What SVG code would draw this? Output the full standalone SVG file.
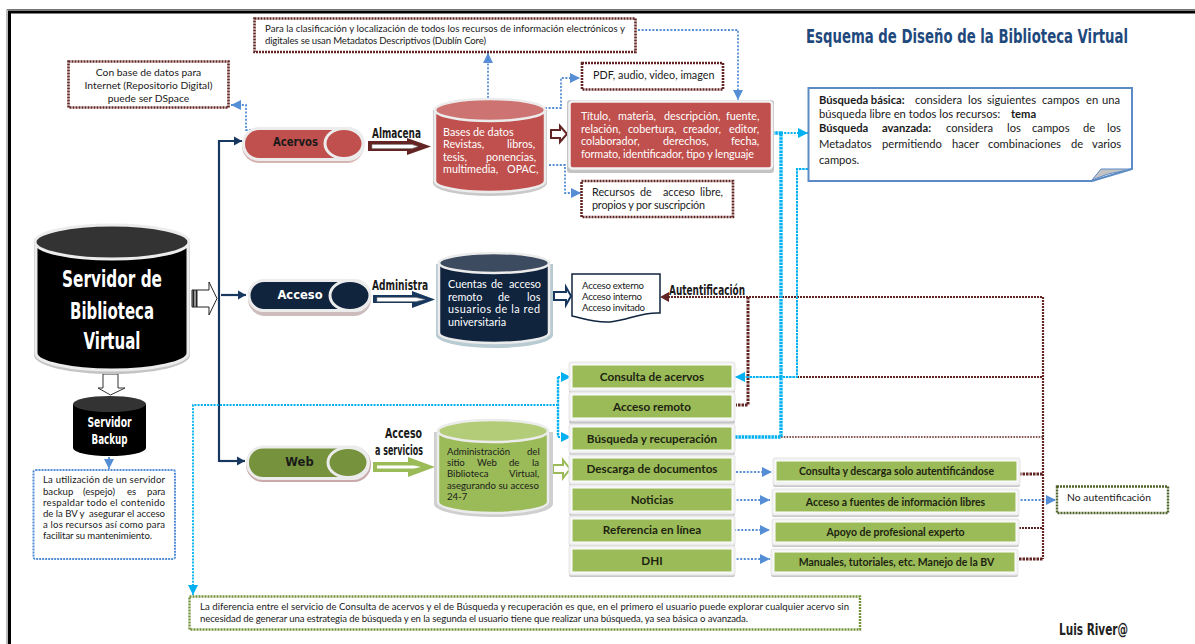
<svg xmlns="http://www.w3.org/2000/svg" width="1195" height="644" viewBox="0 0 1195 644">
<style>
text{font-family:Lato,"Open Sans","Liberation Sans",sans-serif;fill:#1a1a1a}
.t9{font-size:9.6px}.t10{font-size:10.3px}.t11{font-size:10.8px}.t12{font-size:11.2px}
.w{fill:#fff}.c{text-anchor:middle}
.b{font-weight:700}
.cond{font-family:"Liberation Sans Narrow","DejaVu Sans Condensed","Liberation Sans",sans-serif;font-weight:700}
.btn{font-weight:700;font-size:11.7px;text-anchor:middle;fill:#1d2410}
.btn2{font-weight:700;font-size:10.5px;text-anchor:middle;fill:#1d2410}
.pill{font-family:"DejaVu Sans","Liberation Sans",sans-serif;font-weight:700;font-size:11.5px;text-anchor:middle}
.boxm{fill:#fff;stroke:#632523;stroke-width:2.6;stroke-dasharray:2 1}
.boxb{fill:#fff;stroke:#558ed5;stroke-width:2;stroke-dasharray:2 1}
.boxo{fill:#fff;stroke:#76923c;stroke-width:2.4;stroke-dasharray:2 1}
.boxd{fill:#fff;stroke:#4f6228;stroke-width:2.4;stroke-dasharray:2 1}
.lb{fill:none;stroke:#558ed5;stroke-width:1.8;stroke-dasharray:2 1.6}
.lc{fill:none;stroke:#00b0f0;stroke-width:1.8;stroke-dasharray:2 1.2}
.lct{fill:none;stroke:#00b0f0;stroke-width:3.4;stroke-dasharray:2.5 .8}
.lm{fill:none;stroke:#632523;stroke-width:2.2;stroke-dasharray:2 1}
.lmt{fill:none;stroke:#632523;stroke-width:3;stroke-dasharray:2.5 1}
.lmf{fill:none;stroke:#632523;stroke-width:1.3;stroke-dasharray:1.6 1.2}
.ln{fill:none;stroke:#17375e;stroke-width:2.2}
.shade{fill:#c6c6c6}.rim{fill:#f3f3f3;stroke:#e6e6e6}
.g{fill:#9bbb59;stroke:#fff;stroke-width:1}
</style>
<defs>
<marker id="ab" markerUnits="userSpaceOnUse" markerWidth="12" markerHeight="10" refX="10" refY="5" orient="auto"><path d="M0 0L10 5L0 10z" fill="#558ed5"/></marker>
<marker id="ac" markerUnits="userSpaceOnUse" markerWidth="12" markerHeight="10" refX="10" refY="5" orient="auto"><path d="M0 0L10 5L0 10z" fill="#00b0f0"/></marker>
<marker id="an" markerUnits="userSpaceOnUse" markerWidth="10" markerHeight="10" refX="8" refY="5" orient="auto"><path d="M0 0.5L8 5L0 9.5z" fill="#17375e"/></marker>
</defs>
<rect width="1195" height="644" fill="#fff"/>
<g id="frame">
<path d="M7 644V9.5H1195" fill="none" stroke="#777" stroke-width="1"/>
<path d="M9.5 644V12H1195" fill="none" stroke="#000" stroke-width="3"/>
</g>
<g id="title">
<text class="cond" transform="translate(806 43) scale(1 1.25)" font-size="16" style="fill:#1f497d" textLength="322" lengthAdjust="spacingAndGlyphs">Esquema de Diseño de la Biblioteca Virtual</text>
<text class="cond" x="1059" y="635" font-size="15" style="fill:#222" textLength="69" lengthAdjust="spacingAndGlyphs">Luis River@</text>
</g>
<g id="connectors">
<path class="ln" d="M219 462V141H242" marker-end="url(#an)"/>
<path class="ln" d="M221 295H246" marker-end="url(#an)"/>
<path class="ln" d="M219 461H245" marker-end="url(#an)"/>
<path class="lb" d="M262 130H246V105H231" marker-end="url(#ab)"/>
<path class="lb" d="M488 98V53" marker-end="url(#ab)"/>
<path class="lb" d="M638 30H738V100" marker-end="url(#ab)"/>
<path class="lb" d="M545 108H561V78H580" marker-end="url(#ab)"/>
<path class="lb" d="M549 165H565V193H581" marker-end="url(#ab)"/>
<path class="lb" d="M109 457V469" marker-end="url(#ab)"/>
<path class="lb" d="M736 472H772" marker-end="url(#ab)"/>
<path class="lb" d="M733 500H770" marker-end="url(#ab)"/>
<path class="lb" d="M734 530H770" marker-end="url(#ab)"/>
<path class="lb" d="M733 559H770" marker-end="url(#ab)"/>
<path class="lb" d="M1017 500H1056" marker-end="url(#ab)"/>
<path class="lm" d="M668 297H1043V559"/>
<path d="M660 297L669 292V302z" fill="#632523"/>
<path class="lmt" d="M748 297V405H736"/>
<path class="lm" d="M797 377H1043"/>
<path class="lmf" d="M781 437H1043"/>
<path class="lmt" d="M1019 474H1043"/>
<path class="lm" d="M1019 528H1043"/>
<path class="lmt" d="M1019 559H1043"/>
<path class="lct" d="M772 133H781V437H734"/>
<path class="lc" d="M781 133H808" marker-end="url(#ac)"/>
<path class="lct" style="stroke-width:2" d="M808 169H797V377H745"/>
<path class="lc" d="M745 377H735" marker-end="url(#ac)"/>
<path class="lc" d="M558 405H193V595" marker-end="url(#ac)"/>
<path class="lct" style="stroke-width:2.4" d="M558 377V437"/>
<path class="lc" d="M558 377H571" marker-end="url(#ac)"/>
<path class="lc" d="M558 437H571" marker-end="url(#ac)"/>
</g>
<g id="arrows">
<path d="M192 290H209V282L217 298.500L209 315V307H192z" fill="#fff" stroke="#222" stroke-width="1"/>
<path d="M193.500 290V307M196.500 290V307" stroke="#222" stroke-width="2" fill="none"/>
<path d="M103 374H118V388H125L110.500 395L98 388H103z" fill="#fff" stroke="#333" stroke-width="1"/>
<path d="M368 141H407V138L431 146.500L407 155V151H368z" fill="#632523"/>
<path d="M372 144.500H412L418 146.500L412 148.500H372z" fill="#fff" stroke="#8c8c8c" stroke-width=".6"/>
<path d="M373 295H412V291L435 299.500L412 308V303H373z" fill="#17375e"/>
<path d="M377 297.500H416L425 299.500L416 301.500H377z" fill="#fff" stroke="#8c8c8c" stroke-width=".6"/>
<path d="M373 462H408V457L435 467L408 477V472H373z" fill="#9bbb59"/>
<path d="M377 465.500H414L421 467L414 468.500H377z" fill="#fff"/>
<path d="M551 130H560V126L567 134L560 142V138H551z" fill="#fff" stroke="#632523" stroke-width="2"/>
<path d="M554 292H566V287L571 296L566 305V300H554z" fill="#fff" stroke="#17375e" stroke-width="2"/>
<path d="M553 465H563V460L570 469L563 478V473H553z" fill="#fff" stroke="#9bbb59" stroke-width="2"/>
</g>
<g id="servidor">
<path d="M34 242V355C34 366 70 374 112 374S190 366 190 355V242z" fill="#c4c4c4"/>
<path d="M36 240V353A76 17 0 0 0 188 353V240z" fill="#000" stroke="#ececec" stroke-width="3"/>
<ellipse cx="112" cy="242" rx="77" ry="17" fill="#333" stroke="#ececec" stroke-width="3"/>
<text class="cond w c" x="112" y="287" font-size="23" textLength="100" lengthAdjust="spacingAndGlyphs">Servidor de</text>
<text class="cond w c" x="112" y="319" font-size="23" textLength="84" lengthAdjust="spacingAndGlyphs">Biblioteca</text>
<text class="cond w c" x="112" y="349" font-size="23" textLength="57" lengthAdjust="spacingAndGlyphs">Virtual</text>
</g>
<g id="backup">
<path d="M73 404V448A36.500 8 0 0 0 146 448V404z" fill="#000"/>
<ellipse cx="109.500" cy="404" rx="36.500" ry="8" fill="#333"/>
<text class="cond w c" x="109.500" y="427" font-size="14" textLength="44" lengthAdjust="spacingAndGlyphs">Servidor</text>
<text class="cond w c" x="109.500" y="444" font-size="14" textLength="36" lengthAdjust="spacingAndGlyphs">Backup</text>
</g>
<g id="backup-nota">
<rect class="boxb" x="33.500" y="470" width="141.500" height="89" rx="2"/>
<g class="t9">
<text x="43" y="483" textLength="122">La utilización de un servidor</text>
<text y="494.500"><tspan x="43">backup</tspan><tspan x="83">(espejo)</tspan><tspan x="127">es</tspan><tspan x="147">para</tspan></text>
<text x="43" y="506" textLength="122">respaldar todo el contenido</text>
<text x="43" y="517" textLength="122" xml:space="preserve">de la BV y  asegurar el acceso</text>
<text x="43" y="528" textLength="122">a los recursos así como para</text>
<text x="43" y="539" textLength="109">facilitar su mantenimiento.</text>
</g>
</g>
<g id="repositorio">
<rect class="boxm" x="68.500" y="61.500" width="160" height="46"/>
<text class="t10 c" x="148.500" y="76">Con base de datos para</text>
<text class="t10 c" x="148.500" y="89">Internet (Repositorio Digital)</text>
<text class="t10 c" x="148.500" y="101.500">puede ser DSpace</text>
</g>
<g id="metadatos">
<rect class="boxm" x="254.500" y="18.500" width="381" height="33.500"/>
<text class="t9" x="265" y="32" textLength="360">Para la clasificación y localización de todos los recursos de información electrónicos y</text>
<text class="t9" x="265" y="44" textLength="221">digitales se usan Metadatos Descriptivos (Dublín Core)</text>
</g>
<g id="acervos">
<rect x="242" y="128" width="122" height="35" rx="17" fill="#d8b5b3"/>
<rect x="243.500" y="128.500" width="120" height="31" rx="15.500" fill="#c0504d" stroke="#ececec" stroke-width="3"/>
<ellipse cx="344" cy="143.500" rx="19" ry="15" fill="#c0504d" stroke="#ececec" stroke-width="3"/>
<text class="pill" x="295.500" y="146" textLength="45" lengthAdjust="spacingAndGlyphs">Acervos</text>
</g>
<g id="acceso">
<rect x="248" y="281" width="123" height="35" rx="17" fill="#cdbcbc"/>
<rect x="249" y="280.500" width="121" height="30" rx="15" fill="#10243e" stroke="#ececec" stroke-width="3"/>
<ellipse cx="350" cy="295.500" rx="20" ry="15" fill="#10243e" stroke="#ececec" stroke-width="3"/>
<text class="pill w" x="300" y="299">Acceso</text>
</g>
<g id="web">
<rect x="246" y="447" width="125" height="35" rx="17" fill="#c9a9a9"/>
<rect x="247.500" y="447" width="121" height="31.500" rx="15.500" fill="#76923c" stroke="#ececec" stroke-width="3"/>
<ellipse cx="348" cy="462.500" rx="20" ry="15" fill="#76923c" stroke="#ececec" stroke-width="3"/>
<text class="pill" x="299.500" y="466">Web</text>
</g>
<g id="etiquetas">
<text class="cond" x="372" y="138" font-size="14" textLength="49" lengthAdjust="spacingAndGlyphs">Almacena</text>
<text class="cond" x="372" y="290" font-size="14" textLength="56" lengthAdjust="spacingAndGlyphs">Administra</text>
<text class="cond" x="669" y="295" font-size="14" textLength="76" lengthAdjust="spacingAndGlyphs">Autentificación</text>
<text class="cond" x="385" y="438" font-size="14" textLength="37" lengthAdjust="spacingAndGlyphs">Acceso</text>
<text class="cond" x="375" y="455" font-size="14" textLength="48" lengthAdjust="spacingAndGlyphs">a servicios</text>
</g>
<g id="bases">
<path d="M433 110V183A57 13 0 0 0 547 183V110z" fill="#c9c9c9"/>
<path d="M435 109V181A55 11 0 0 0 545 181V109z" fill="#c0504d" stroke="#ececec" stroke-width="2.500"/>
<ellipse cx="490" cy="110" rx="55" ry="11" fill="#cd7371" stroke="#ececec" stroke-width="2.500"/>
<g class="t11">
<text class="w" x="443" y="136">Bases de datos</text>
<text class="w" y="148"><tspan x="443">Revistas,</tspan><tspan x="507">libros,</tspan></text>
<text class="w" y="161"><tspan x="443">tesis,</tspan><tspan x="486">ponencias,</tspan></text>
<text class="w" y="173"><tspan x="443">multimedia,</tspan><tspan x="507">OPAC,</tspan></text>
</g>
</g>
<g id="pdf">
<rect class="boxm" x="582" y="63" width="141" height="26.500"/>
<text class="t11" x="593" y="79">PDF, audio, video, imagen</text>
</g>
<g id="recursos">
<rect class="boxm" x="581.500" y="181" width="151.500" height="36"/>
<text class="t11" y="196"><tspan x="592">Recursos</tspan><tspan x="640">de</tspan><tspan x="663">acceso</tspan><tspan x="700">libre,</tspan></text>
<text class="t11" x="592" y="208.500" textLength="113">propios y por suscripción</text>
</g>
<g id="campos">
<rect x="567" y="100" width="207" height="73" rx="3" fill="#c4c4c4"/>
<rect x="569.500" y="101.500" width="202.500" height="67" rx="3" fill="#c0504d" stroke="#f1f1f1" stroke-width="2.500"/>
<g class="t11">
<text class="w" y="120"><tspan x="581">Título,</tspan><tspan x="618">materia,</tspan><tspan x="664">descripción,</tspan><tspan x="726">fuente,</tspan></text>
<text class="w" y="132.500"><tspan x="581">relación,</tspan><tspan x="628">cobertura,</tspan><tspan x="683">creador,</tspan><tspan x="729">editor,</tspan></text>
<text class="w" y="145"><tspan x="581">colaborador,</tspan><tspan x="663">derechos,</tspan><tspan x="731">fecha,</tspan></text>
<text class="w" x="581" y="157.500" textLength="173">formato, identificador, tipo y lenguaje</text>
</g>
</g>
<g id="cuentas">
<path d="M436 264V335A58 13 0 0 0 553 335V264z" fill="#b9cbd2"/>
<path d="M439 262V333A55 10 0 0 0 549 333V262z" fill="#10243e" stroke="#ececec" stroke-width="2.500"/>
<ellipse cx="494" cy="263" rx="55" ry="10" fill="#3d4b60" stroke="#ececec" stroke-width="2.500"/>
<g class="t11">
<text class="w" y="288"><tspan x="448">Cuentas</tspan><tspan x="491">de</tspan><tspan x="509">acceso</tspan></text>
<text class="w" y="301"><tspan x="448">remoto</tspan><tspan x="498">de</tspan><tspan x="527">los</tspan></text>
<text class="w" x="448" y="313" textLength="92">usuarios de la red</text>
<text class="w" x="448" y="325.500">universitaria</text>
</g>
</g>
<g id="documento">
<path d="M572 274H660V313C640 312 630 320 610 322C595 323 585 319 572 316z" fill="#fff" stroke="#10243e" stroke-width="1.500"/>
<text class="t9" x="582" y="289" textLength="62">Acceso externo</text>
<text class="t9" x="582" y="300" textLength="60">Acceso interno</text>
<text class="t9" x="582" y="311" textLength="63">Acceso invitado</text>
</g>
<g id="admin-web">
<path d="M434 432V504A59 13 0 0 0 553 504V432z" fill="#cfcfcf"/>
<path d="M438 430V502A55 11 0 0 0 548 502V430z" fill="#9bbb59" stroke="#ececec" stroke-width="2.500"/>
<ellipse cx="493" cy="431" rx="55" ry="11" fill="#b3cc78" stroke="#ececec" stroke-width="2.500"/>
<g class="t9">
<text y="455"><tspan x="447">Administración</tspan><tspan x="527">del</tspan></text>
<text y="466"><tspan x="447">sitio</tspan><tspan x="477">Web</tspan><tspan x="509">de</tspan><tspan x="532">la</tspan></text>
<text y="477"><tspan x="447">Biblioteca</tspan><tspan x="509">Virtual,</tspan></text>
<text x="447" y="489" textLength="92">asegurando su acceso</text>
<text x="447" y="500">24-7</text>
</g>
</g>
<g id="consulta"><rect class="shade" x="569" y="365" width="166" height="29" rx="2"/><rect class="rim" x="569" y="362" width="166" height="29" rx="2"/><rect class="g" x="572" y="365" width="160" height="23"/><text class="btn" x="652" y="381">Consulta de acervos</text></g>
<g id="remoto"><rect class="shade" x="569" y="395" width="166" height="29" rx="2"/><rect class="rim" x="569" y="392" width="166" height="29" rx="2"/><rect class="g" x="572" y="395" width="160" height="23"/><text class="btn" x="652" y="411">Acceso remoto</text></g>
<g id="busqueda"><rect class="shade" x="569" y="427" width="166" height="28" rx="2"/><rect class="rim" x="569" y="424" width="166" height="29" rx="2"/><rect class="g" x="572" y="427" width="160" height="23"/><text class="btn" x="652" y="443">Búsqueda y recuperación</text></g>
<g id="descarga"><rect class="shade" x="569" y="458" width="166" height="28" rx="2"/><rect class="rim" x="569" y="455" width="166" height="29" rx="2"/><rect class="g" x="572" y="458" width="160" height="23"/><text class="btn" x="652" y="473">Descarga de documentos</text></g>
<g id="noticias"><rect class="shade" x="569" y="488" width="166" height="28" rx="2"/><rect class="rim" x="569" y="485" width="166" height="29" rx="2"/><rect class="g" x="572" y="488" width="160" height="23"/><text class="btn" x="652" y="504">Noticias</text></g>
<g id="referencia"><rect class="shade" x="569" y="519" width="166" height="28" rx="2"/><rect class="rim" x="569" y="516" width="166" height="29" rx="2"/><rect class="g" x="572" y="519" width="160" height="23"/><text class="btn" x="652" y="534">Referencia en línea</text></g>
<g id="dhi"><rect class="shade" x="569" y="549" width="166" height="28" rx="2"/><rect class="rim" x="569" y="546" width="166" height="29" rx="2"/><rect class="g" x="572" y="549" width="160" height="23"/><text class="btn" x="652" y="565">DHI</text></g>
<g id="consulta-descarga"><rect class="shade" x="773" y="461" width="247" height="26" rx="2"/><rect class="rim" x="773" y="458" width="247" height="27" rx="2"/><rect class="g" x="776" y="461" width="241" height="20"/><text class="btn2" x="896.500" y="475">Consulta y descarga solo autentificándose</text></g>
<g id="fuentes"><rect class="shade" x="772" y="492" width="247" height="25" rx="2"/><rect class="rim" x="772" y="489" width="247" height="26" rx="2"/><rect class="g" x="775" y="492" width="241" height="20"/><text class="btn2" x="895.500" y="506">Acceso a fuentes de información libres</text></g>
<g id="apoyo"><rect class="shade" x="772" y="522" width="247" height="25" rx="2"/><rect class="rim" x="772" y="519" width="247" height="26" rx="2"/><rect class="g" x="775" y="522" width="241" height="20"/><text class="btn2" x="895.500" y="536">Apoyo de profesional experto</text></g>
<g id="manuales"><rect class="shade" x="771" y="552" width="247" height="25" rx="2"/><rect class="rim" x="771" y="549" width="247" height="26" rx="2"/><rect class="g" x="774" y="552" width="241" height="20"/><text class="btn2" x="896.500" y="566">Manuales, tutoriales, etc. Manejo de la BV</text></g>
<g id="no-autentificacion">
<rect class="boxd" x="1057" y="486.500" width="111" height="26.500"/>
<text class="t10" x="1067" y="501" textLength="84">No autentificación</text>
</g>
<g id="diferencia">
<rect class="boxo" x="189.500" y="596.500" width="670.500" height="33"/>
<text class="t9" x="200" y="609.500" textLength="649">La diferencia entre el servicio de Consulta de acervos y el de Búsqueda y recuperación es que, en el primero el usuario puede explorar cualquier acervo sin</text>
<text class="t9" x="200" y="621.500" textLength="548">necesidad de generar una estrategia de búsqueda y en la segunda el usuario tiene que realizar una búsqueda, ya sea básica o avanzada.</text>
</g>
<g id="busqueda-nota">
<path d="M808.500 88H1132V169L1092 181H808.500z" fill="#fff" stroke="#5b8bc5" stroke-width="2"/>
<path d="M1092 180L1101 169L1132 169L1108 174z" fill="#c3c3c3" stroke="#5b8bc5" stroke-width="1"/>
<g class="t12">
<text y="103.500"><tspan x="819" class="b">Búsqueda básica:</tspan><tspan x="915">considera</tspan><tspan x="968">los</tspan><tspan x="987">siguientes</tspan><tspan x="1042">campos</tspan><tspan x="1086">en</tspan><tspan x="1102">una</tspan></text>
<text y="118"><tspan x="819">búsqueda libre en todos los recursos:</tspan><tspan x="1011" class="b">tema</tspan></text>
<text y="132"><tspan x="819" class="b">Búsqueda</tspan><tspan x="882" class="b">avanzada:</tspan><tspan x="946">considera</tspan><tspan x="1007">los</tspan><tspan x="1032">campos</tspan><tspan x="1083">de</tspan><tspan x="1107">los</tspan></text>
<text y="148"><tspan x="819">Metadatos</tspan><tspan x="882">permitiendo</tspan><tspan x="952">hacer</tspan><tspan x="988">combinaciones</tspan><tspan x="1071">de</tspan><tspan x="1092">varios</tspan></text>
<text x="819" y="164">campos.</text>
</g>
</g>
</svg>
